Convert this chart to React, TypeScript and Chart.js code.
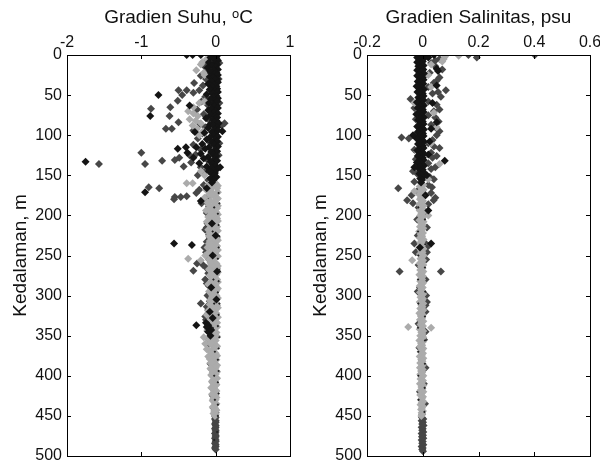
import React, { useEffect, useRef } from "react";
import { Chart, registerables } from "chart.js";
Chart.register(...registerables);

type P = [number, number]; // [kedalaman (m), gradien]

const depthTicks = [0, 50, 100, 150, 200, 250, 300, 350, 400, 450, 500];
const suhuTicks = [-2, -1, 0, 1];
const salTicks = [-0.2, 0, 0.2, 0.4, 0.6];

const suhuTitle = "Gradien Suhu, \u1D52C";
const salTitle = "Gradien Salinitas, psu";
const yTitle = "Kedalaman, m";

// ---------- Gradien Suhu ----------
const suhuHitam: P[] = [
  [1,-0.03],[1,0.02],[3,-0.07],[4,0.01],[6,-0.02],[7,0.03],[9,-0.09],[10,-0.01],[12,0.02],[13,-0.05],[15,0.0],[16,-0.11],[18,0.03],[19,-0.03],[21,-0.07],[22,0.01],[24,-0.02],[25,0.03],[27,-0.08],[28,-0.04],[30,0.02],[31,-0.01],[33,-0.06],[34,0.03],[36,-0.1],[37,-0.02],[39,0.01],[40,-0.05],[42,0.02],[43,-0.08],[45,-0.01],[46,0.03],[48,-0.04],[49,-0.12],[51,0.01],[52,-0.03],[54,0.03],[55,-0.07],[57,-0.01],[58,0.02],[60,-0.09],[61,-0.04],[63,0.01],[64,-0.02],[66,0.03],[67,-0.06],[69,-0.1],[70,0.0],[72,-0.03],[73,0.03],[75,-0.07],[76,-0.01],[78,0.02],[79,-0.13],[81,-0.04],[82,0.01],[84,-0.02],[85,0.04],[87,-0.08],[88,-0.03],[90,0.02],[91,-0.1],[93,-0.01],[94,0.03],[96,-0.05],[97,-0.15],[99,0.0],[100,-0.03],[102,0.03],[103,-0.08],[105,-0.12],[106,-0.01],[108,0.02],[109,-0.05],[111,-0.18],[112,-0.02],[114,0.03],[115,-0.09],[117,-0.14],[118,-0.01],[120,0.02],[121,-0.06],[123,-0.2],[124,-0.03],[126,0.01],[127,-0.1],[129,-0.16],[130,-0.02],[132,0.02],[133,-0.07],[135,-0.22],[136,-0.04],[138,0.0],[139,-0.12],[141,-0.06],[142,0.02],[144,-0.03],[145,-0.09],[147,-0.01],[148,-0.05],[150,-0.02],[152,0.01],[154,-0.07],[156,-0.03],[159,-0.05],
  [0,-0.39],[0,-0.31],[0,-0.2],[50,-0.77],[76,-0.88],[63,-0.35],[96,-0.28],[133,-1.75],[117,-0.51],[115,-0.4],[115,-0.26],[122,-0.38],[128,-0.3],[171,-0.95],[166,-0.12],[182,-0.2],[235,-0.56],[237,-0.32],[337,-0.26],[334,-0.13],[337,-0.1],[341,-0.08],[345,-0.1],[350,-0.07],[95,0.09],[140,0.06],
  [210,-0.05],[225,0.0],[250,-0.04],[270,0.02],[290,-0.06],[305,0.01],[320,-0.08],[328,-0.04],[339,-0.12],[343,-0.06]
];
const suhuAbu: P[] = [
  [2,-0.05],[8,-0.12],[14,-0.15],[20,-0.1],[26,-0.2],[30,-0.13],[38,-0.17],[44,-0.22],[47,-0.3],[52,-0.14],[58,-0.19],[62,-0.11],[68,-0.25],[74,-0.16],[80,-0.1],[86,-0.21],[90,-0.14],[94,-0.3],[98,-0.18],[104,-0.24],[108,-0.09],[112,-0.3],[118,-0.2],[124,-0.27],[130,-0.12],[134,-0.33],[140,-0.2],[146,-0.15],[150,-0.24],[156,-0.1],[162,-0.16],[168,-0.22],
  [10,0.05],[30,0.04],[60,0.05],[85,0.12],[88,0.08],[110,0.05],[125,0.04],
  [136,-1.57],[122,-1.0],[136,-0.95],[67,-0.87],[65,-0.61],[76,-0.62],[57,-0.51],[84,-0.5],[92,-0.67],[92,-0.59],[44,-0.5],[44,-0.39],[35,-0.29],[132,-0.72],[131,-0.55],[128,-0.49],[139,-0.43],[125,-0.35],[165,-0.9],[166,-0.76],[177,-0.55],[177,-0.47],[176,-0.39],[172,-0.26],[185,-0.19],[260,-0.25],[269,-0.3],[310,-0.2],[50,-0.45],[180,-0.56],
  [176,-0.1],[183,-0.13],[189,-0.09],[197,-0.12],[203,-0.08],[210,-0.11],[218,-0.14],[224,-0.09],[233,-0.12],[238,-0.1],[246,-0.13],[255,-0.09],[266,-0.12],[272,-0.1],[280,-0.14],[288,-0.09],[300,-0.11],[307,-0.08],[314,-0.12],[322,-0.1],[330,-0.13],[336,-0.07],[344,-0.11],[352,-0.06],[360,-0.09],[378,-0.06],[392,-0.05],[408,-0.04],[425,-0.04],[440,-0.03],
  [195,-0.1],[205,-0.06],[215,-0.12],[228,-0.08],[240,-0.15],[252,-0.1],[262,-0.17],[275,-0.07],[285,-0.12],[296,-0.05],[318,-0.1],[326,-0.14],[340,-0.06],[355,-0.09],[370,-0.05],[385,-0.07],[400,-0.04],[415,-0.05],[430,-0.03],
  [446,0.0],[450,-0.01],[452,0.0],[454,-0.01],[456,0.0],[458,0.0],[460,-0.01],[462,0.0],[464,0.0],[466,-0.01],[468,0.0],[470,0.0],[472,-0.01],[474,0.0],[476,0.0],[478,-0.01],[480,0.0],[482,0.0],[484,-0.01],[486,0.0],[488,0.0],[490,-0.01],[492,0.0]
];
const suhuTerang: P[] = [
  [5,-0.12],[9,-0.18],[12,-0.2],[16,-0.1],[19,-0.26],[22,-0.16],[25,-0.15],[58,-0.15],[60,-0.22],[65,-0.3],[70,-0.37],[73,-0.3],[76,-0.24],[80,-0.35],[82,-0.27],[85,-0.2],[88,-0.31],[92,-0.25],[95,-0.17],[100,-0.22],[145,-0.2],[150,-0.15],[160,-0.39],[160,-0.31],[254,-0.37],
  [158,-0.05],[160,0.0],[162,-0.1],[164,-0.03],[166,0.02],[168,-0.13],[170,-0.06],[172,0.01],[174,-0.09],[176,-0.02],[178,-0.15],[180,0.02],[182,-0.07],[184,-0.11],[186,-0.01],[188,0.03],[190,-0.08],[192,-0.04],[194,-0.13],[196,0.01],[198,-0.06],[200,-0.02],[202,-0.1],[204,0.02],[206,-0.05],[208,-0.12],[210,-0.01],[212,-0.07],[214,0.02],[216,-0.04],[218,-0.1],[220,0.0],[222,-0.06],[224,-0.02],[226,-0.09],[228,0.02],[230,-0.04],[232,-0.08],[234,-0.01],[236,-0.05],[238,0.02],[240,-0.11],[242,-0.03],[244,0.01],[246,-0.07],[248,-0.02],[250,-0.14],[252,0.0],[254,-0.05],[256,-0.2],[258,-0.02],[260,0.01],[262,-0.06],[264,-0.03],[266,0.02],[268,-0.08],[270,-0.01],[272,-0.04],[274,0.01],[276,-0.06],[278,-0.02],[280,0.02],[282,-0.05],[284,-0.03],[286,-0.1],[288,0.0],[290,-0.04],[292,-0.02],[294,0.01],[296,-0.06],[298,-0.03],[300,0.01],[302,-0.05],[304,-0.02],[306,-0.08],[308,0.0],[310,-0.03],[312,0.02],[314,-0.05],[316,-0.01],[318,-0.07],[320,-0.03],[322,0.01],[324,-0.12],[326,-0.04],[328,0.0],[330,-0.06],[332,-0.02],[334,0.02],[336,-0.05],[338,-0.1],[340,-0.01],[342,-0.03],[344,-0.07],[346,0.01],[348,-0.04],[350,-0.02],[352,-0.16],[354,-0.06],[356,0.0],[358,-0.03],[360,-0.14],[362,-0.05],[364,0.01],[366,-0.02],[368,-0.09],[370,-0.04],[372,0.0],[374,-0.02],[376,-0.1],[378,-0.05],[380,0.01],[382,-0.03],[384,-0.07],[386,-0.01],[388,-0.04],[390,0.0],[392,-0.06],[394,-0.02],[396,-0.04],[398,0.0],[400,-0.05],[402,-0.02],[404,0.0],[406,-0.04],[408,-0.01],[410,-0.03],[412,0.0],[414,-0.02],[416,-0.04],[418,0.0],[420,-0.02],[422,-0.03],[424,0.0],[426,-0.01],[428,-0.03],[430,0.0],[432,-0.02],[434,-0.01],[436,0.0],[438,-0.02],[440,-0.01],[442,0.0],[444,-0.02],[446,-0.01],[448,0.0],[450,-0.01],
  [163,0.03],[167,-0.08],[171,0.03],[175,-0.05],[179,0.03],[183,-0.02],[187,-0.09],[191,0.02],[195,-0.07],[199,0.03],[203,-0.08],[207,0.03],[211,-0.09],[215,-0.02],[219,0.03],[223,-0.08],[227,-0.03],[231,0.03],[235,-0.09],[239,-0.06],[243,0.03],[247,-0.1],[251,0.03],[255,-0.09],[259,-0.07],[263,0.03],[267,-0.09],[271,0.03],[275,-0.08],[279,-0.05],[283,0.03],[287,-0.07],[291,0.03],[295,-0.09],[299,-0.05],[303,0.03],[307,-0.06],[311,-0.08],[315,0.03],[319,-0.1],[323,-0.05],[327,0.03],[331,-0.09],[335,-0.07],[339,0.02],[343,-0.11],[347,-0.05],[351,0.02],[355,-0.09],[359,-0.07],[363,0.02],[367,-0.12],[371,-0.06],[375,0.02],[379,-0.08],[383,-0.05],[387,0.02],[391,-0.07],[395,0.02],[399,-0.06],[403,0.02],[407,-0.05],[411,0.01],[415,-0.06],[419,0.01],[423,-0.05],[427,0.01],[431,-0.04],[435,0.01],[439,-0.04],[443,0.01],[447,-0.03]
];
const suhuTitik: P[] = [
  [172,0.04],[185,0.05],[198,0.03],[212,0.04],[226,0.05],[240,0.04],[254,0.03],[268,0.05],[282,0.04],[296,0.03],[310,0.05],[324,0.04],[338,0.03],[352,0.05],[366,0.04],[380,0.03],[394,0.04],[408,0.03],[422,0.04],[436,0.03],[450,0.03],
  [190,-0.02],[220,-0.04],[250,-0.01],[280,-0.03],[310,-0.02],[340,-0.04],[370,-0.01],[400,-0.02],[430,-0.01],[470,0.02],[480,-0.02]
];

// ---------- Gradien Salinitas ----------
const salHitam: P[] = [
  [0,-0.01],[1,0.0],[3,-0.02],[4,0.005],[6,-0.012],[8,0.0],[9,-0.02],[11,-0.005],[13,0.003],[14,-0.016],[16,-0.008],[18,0.002],[19,-0.02],[21,-0.004],[23,0.004],[24,-0.013],[26,-0.02],[28,0.0],[29,-0.009],[31,0.003],[33,-0.018],[34,-0.006],[36,0.002],[38,-0.014],[39,-0.022],[41,-0.003],[43,0.004],[44,-0.011],[46,-0.019],[48,0.0],[49,-0.007],[51,0.003],[53,-0.016],[54,-0.004],[56,0.002],[58,-0.012],[59,-0.021],[61,-0.002],[63,0.004],[64,-0.01],[66,-0.018],[68,0.0],[69,-0.006],[71,0.003],[73,-0.015],[74,-0.023],[76,-0.003],[78,0.004],[79,-0.01],[81,-0.017],[83,0.0],[84,-0.007],[86,0.003],[88,-0.014],[89,-0.02],[91,-0.002],[93,0.004],[94,-0.011],[96,-0.018],[98,0.001],[99,-0.006],[101,0.003],[103,-0.015],[104,-0.022],[106,-0.003],[108,0.004],[109,-0.01],[111,-0.017],[113,0.0],[114,-0.008],[116,0.003],[118,-0.013],[119,-0.02],[121,-0.002],[123,0.004],[124,-0.011],[126,-0.018],[128,0.0],[129,-0.006],[131,0.003],[133,-0.014],[134,-0.021],[136,-0.003],[138,0.004],[139,-0.01],[141,-0.016],[143,0.0],[144,-0.007],[146,0.002],[148,-0.012],[150,-0.004],[152,0.001],[154,-0.009],[156,-0.003],[159,-0.006],
  [17,0.05],[20,0.055],[38,0.05],[84,0.05],[92,0.03],[108,0.025],[132,0.079],[124,0.02],[60,0.035],[3,0.02],[0,0.04],[150,0.015],[175,0.01],[194,0.02],[235,0.03],[240,-0.01],[100,-0.035],[140,-0.03]
];
const salAbu: P[] = [
  [0,0.164],[3,0.194],[0,0.402],[5,0.06],[10,0.03],[14,0.045],[22,0.025],[28,0.06],[35,0.039],[40,0.02],[44,0.083],[48,0.035],[52,0.065],[55,-0.044],[58,0.02],[62,0.05],[66,-0.03],[70,0.04],[75,0.02],[80,-0.025],[83,0.057],[87,0.03],[90,0.045],[95,0.06],[98,-0.02],[103,-0.076],[104,-0.05],[106,0.035],[110,0.02],[114,0.04],[118,-0.03],[122,0.03],[126,0.05],[130,-0.025],[135,0.02],[142,0.03],[148,-0.02],[152,0.025],[158,-0.03],[162,0.02],[165,0.033],[166,-0.088],[170,-0.02],[175,-0.04],[181,-0.056],[181,0.039],[186,0.02],[190,-0.015],[235,0.01],[235,-0.03],[238,0.02],[246,0.015],[246,-0.025],[270,-0.083],[270,0.065],[290,-0.01],[308,0.015],[312,0.01],[325,-0.005],[355,0.005],[380,-0.004],[410,0.004],
  [7,0.045],[18,0.07],[32,0.05],[46,0.055],[68,0.06],[78,0.045],[100,0.05],[116,0.06],[128,0.035],[140,0.045],[145,-0.035],[155,0.04],[172,0.03],[178,0.045],[185,-0.035],[196,0.01],[205,-0.02],[215,0.015],[225,-0.018],[255,0.012],[262,-0.015],[280,0.01],[295,-0.018],[300,0.012],[320,0.01],[335,-0.015],[345,0.01],[365,-0.012],[390,0.01],[420,-0.01],[435,0.008],
  [448,-0.002],[452,-0.003],[454,0.002],[456,-0.004],[458,0.001],[460,-0.002],[462,0.003],[464,-0.004],[466,0.0],[468,-0.002],[470,0.002],[472,-0.004],[474,0.001],[476,-0.003],[478,0.002],[480,-0.004],[482,0.0],[484,-0.002],[486,0.002],[488,-0.004],[490,0.0],[492,-0.002],[494,0.001]
];
const salTerang: P[] = [
  [1,0.129],[2,0.08],[5,0.075],[8,0.07],[12,0.03],[25,0.02],[40,0.03],[60,-0.03],[72,0.04],[90,0.05],[110,0.03],[136,0.06],[120,-0.02],[155,0.02],[256,-0.038],[339,-0.052],[340,0.03],[170,-0.03],[200,0.02],
  [160,-0.006],[162,0.002],[164,-0.011],[166,-0.003],[168,0.003],[170,-0.009],[172,-0.001],[174,-0.013],[176,0.002],[178,-0.006],[180,-0.01],[182,0.001],[184,-0.004],[186,-0.012],[188,0.003],[190,-0.007],[192,-0.002],[194,-0.011],[196,0.002],[198,-0.005],[200,-0.009],[202,0.001],[204,-0.003],[206,-0.012],[208,0.003],[210,-0.006],[212,-0.001],[214,-0.01],[216,0.002],[218,-0.004],[220,-0.013],[222,0.001],[224,-0.007],[226,-0.002],[228,-0.01],[230,0.003],[232,-0.005],[234,-0.009],[236,0.0],[238,-0.003],[240,-0.012],[242,0.002],[244,-0.006],[246,-0.001],[248,-0.01],[250,0.003],[252,-0.004],[254,-0.008],[256,0.001],[258,-0.003],[260,-0.011],[262,0.002],[264,-0.006],[266,-0.001],[268,-0.009],[270,0.002],[272,-0.004],[274,-0.012],[276,0.001],[278,-0.005],[280,-0.002],[282,-0.009],[284,0.002],[286,-0.004],[288,-0.011],[290,0.0],[292,-0.006],[294,-0.002],[296,-0.01],[298,0.002],[300,-0.004],[302,-0.008],[304,0.001],[306,-0.003],[308,-0.011],[310,0.002],[312,-0.005],[314,-0.001],[316,-0.009],[318,0.002],[320,-0.004],[322,-0.012],[324,0.0],[326,-0.006],[328,-0.002],[330,-0.01],[332,0.002],[334,-0.004],[336,-0.008],[338,0.001],[340,-0.003],[342,-0.011],[344,0.002],[346,-0.005],[348,-0.001],[350,-0.009],[352,0.002],[354,-0.004],[356,-0.012],[358,0.0],[360,-0.006],[362,-0.002],[364,-0.01],[366,0.002],[368,-0.004],[370,-0.008],[372,0.001],[374,-0.003],[376,-0.011],[378,0.002],[380,-0.005],[382,-0.001],[384,-0.009],[386,0.002],[388,-0.004],[390,-0.01],[392,0.0],[394,-0.006],[396,-0.002],[398,-0.009],[400,0.002],[402,-0.004],[404,-0.008],[406,0.001],[408,-0.003],[410,-0.01],[412,0.002],[414,-0.005],[416,-0.001],[418,-0.008],[420,0.002],[422,-0.004],[424,-0.009],[426,0.001],[428,-0.003],[430,-0.007],[432,0.002],[434,-0.004],[436,-0.008],[438,0.0],[440,-0.003],[442,-0.006],[444,0.001],[446,-0.004],[448,-0.002],[450,-0.005]
];
const salTitik: P[] = [
  [175,0.008],[190,-0.016],[205,0.008],[220,-0.017],[236,0.009],[250,-0.016],[265,0.008],[280,-0.017],[295,0.009],[310,-0.016],[326,0.008],[340,-0.017],[356,0.008],[370,-0.016],[385,0.008],[400,-0.016],[415,0.007],[430,-0.015],[445,0.006]
];

const WARNA_HITAM = "#141414";
const WARNA_ABU = "#474747";
const WARNA_TERANG = "#ababab";
const FONT = '"Liberation Sans", Arial, Helvetica, sans-serif';

const boxPlugin = {
  id: "matlabBox",
  afterDatasetsDraw(chart: any) {
    const { ctx, chartArea } = chart;
    const { left, right, top, bottom } = chartArea;
    const xs = chart.scales.x;
    const ys = chart.scales.y;
    const tl = 4;
    ctx.save();
    ctx.strokeStyle = "#000";
    ctx.lineWidth = 1;
    ctx.strokeRect(Math.round(left) + 0.5, Math.round(top) + 0.5, Math.round(right - left), Math.round(bottom - top));
    ctx.beginPath();
    xs.ticks.forEach((t: any) => {
      const px = Math.round(xs.getPixelForValue(t.value)) + 0.5;
      ctx.moveTo(px, top); ctx.lineTo(px, top + tl);
      ctx.moveTo(px, bottom); ctx.lineTo(px, bottom - tl);
    });
    ys.ticks.forEach((t: any) => {
      const py = Math.round(ys.getPixelForValue(t.value)) + 0.5;
      ctx.moveTo(left, py); ctx.lineTo(left + tl, py);
      ctx.moveTo(right, py); ctx.lineTo(right - tl, py);
    });
    ctx.stroke();
    ctx.restore();
  },
};

function toXY(arr: P[]) {
  return arr.map(([d, v]) => ({ x: v, y: d }));
}

type PanelProps = {
  title: string;
  xTicks: number[];
  hitam: P[];
  abu: P[];
  terang: P[];
  titik: P[];
  left: number;
};

function Panel({ title, xTicks, hitam, abu, terang, titik, left }: PanelProps) {
  const ref = useRef<HTMLCanvasElement>(null);
  useEffect(() => {
    if (!ref.current) return;
    const ds = (label: string, data: P[], color: string, r: number) => ({
      label,
      data: toXY(data),
      backgroundColor: color,
      borderColor: color,
      borderWidth: 0,
      pointStyle: "rectRot" as const,
      pointRadius: r,
      pointHoverRadius: r,
    });
    const chart = new Chart(ref.current, {
      type: "scatter",
      data: {
        // index 0 is drawn last (on top)
        datasets: [
          ds("titik", titik, "#222", 1.3),
          ds("hitam", hitam, WARNA_HITAM, 4),
          ds("terang", terang, WARNA_TERANG, 4),
          ds("abu", abu, WARNA_ABU, 4),
        ],
      },
      options: {
        animation: false,
        responsive: false,
        events: [],
        layout: { padding: { left: 0, right: 10, top: 0, bottom: 4 } },
        plugins: { legend: { display: false }, tooltip: { enabled: false } },
        scales: {
          x: {
            type: "linear",
            position: "top",
            min: xTicks[0],
            max: xTicks[xTicks.length - 1],
            afterBuildTicks: (s: any) => { s.ticks = xTicks.map((v) => ({ value: v })); },
            afterFit: (s: any) => { s.height = 55; s.paddingLeft = 0; s.paddingRight = 0; },
            grid: { display: false, drawTicks: false },
            border: { display: false },
            ticks: {
              padding: 3,
              color: "#111",
              font: { family: FONT, size: 16 },
              callback: (v: any) => String(Number(Number(v).toFixed(2))),
              maxRotation: 0,
            },
            title: {
              display: true,
              text: title,
              color: "#111",
              font: { family: FONT, size: 19 },
              padding: { top: 6, bottom: 0 },
            },
          },
          y: {
            type: "linear",
            reverse: true,
            min: depthTicks[0],
            max: depthTicks[depthTicks.length - 1],
            afterBuildTicks: (s: any) => { s.ticks = depthTicks.map((v) => ({ value: v })); },
            afterFit: (s: any) => { s.width = 67; s.paddingTop = 0; s.paddingBottom = 0; },
            grid: { display: false, drawTicks: false },
            border: { display: false },
            ticks: {
              padding: 5,
              color: "#111",
              autoSkip: false,
              font: { family: FONT, size: 16 },
            },
            title: {
              display: true,
              text: yTitle,
              color: "#111",
              font: { family: FONT, size: 19 },
              padding: { top: 9, bottom: 0 },
            },
          },
        },
      },
      plugins: [boxPlugin],
    });
    return () => chart.destroy();
  }, []);
  return (
    <div style={{ position: "absolute", left, top: 0, width: 300, height: 460 }}>
      <canvas ref={ref} width={300} height={460} style={{ width: 300, height: 460 }} />
    </div>
  );
}

export default function App() {
  return (
    <div style={{ position: "fixed", left: 0, top: 0, width: 600, height: 460, background: "#fff" }}>
      <Panel title={suhuTitle} xTicks={suhuTicks} hitam={suhuHitam} abu={suhuAbu} terang={suhuTerang} titik={suhuTitik} left={0} />
      <Panel title={salTitle} xTicks={salTicks} hitam={salHitam} abu={salAbu} terang={salTerang} titik={salTitik} left={300} />
    </div>
  );
}
